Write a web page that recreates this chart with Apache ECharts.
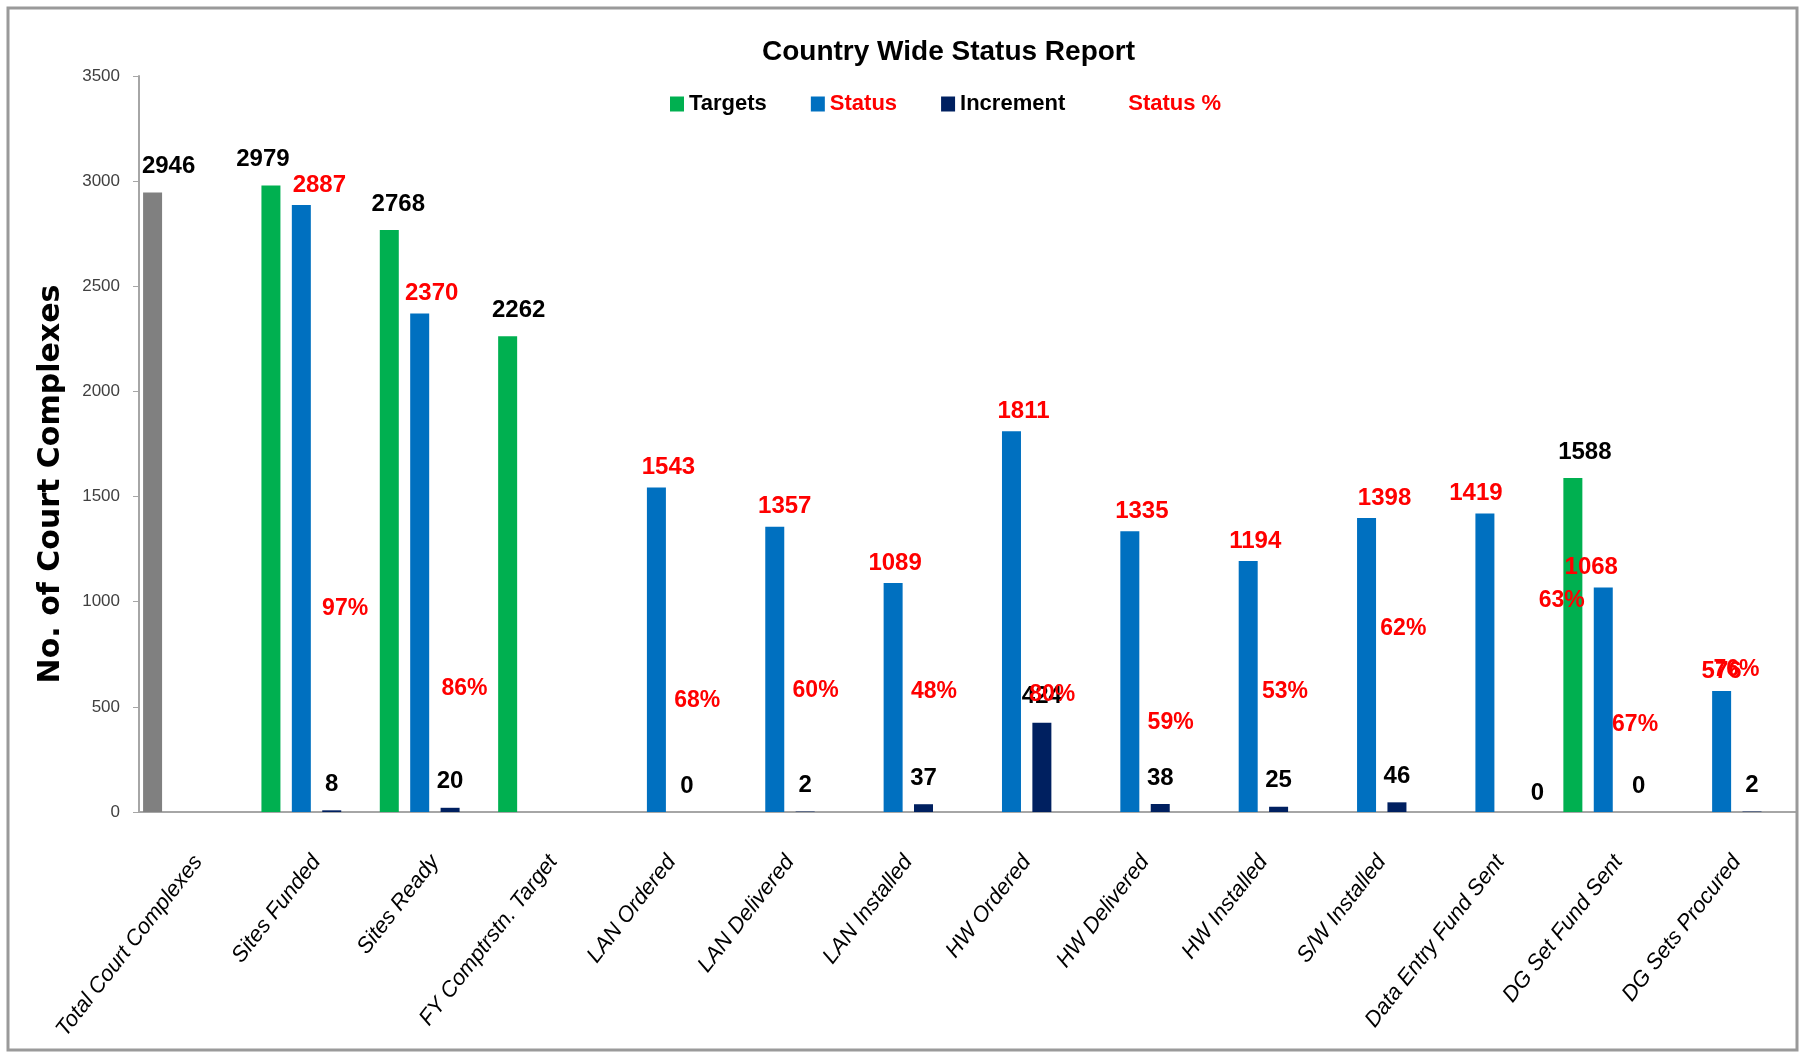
<!DOCTYPE html>
<html>
<head>
<meta charset="utf-8">
<script src="https://cdn.jsdelivr.net/npm/echarts@6.0.0/dist/echarts.min.js"></script>
<style>
html,body{margin:0;padding:0;background:#ffffff;}
#chart{width:1801px;height:1053px;}
</style>
</head>
<body>
<div id="chart"></div>
<script>
// ---------------- data ----------------
const categories = ['Total Court Complexes','Sites Funded','Sites Ready','FY Comptrstn. Target','LAN Ordered','LAN Delivered','LAN Installed','HW Ordered','HW Delivered','HW Installed','S/W Installed','Data Entry Fund Sent','DG Set Fund Sent','DG Sets Procured'];
const targets   = [2946, 2979, 2768, 2262, null, null, null, null, null, null, null, null, 1588, null];
const status    = [null, 2887, 2370, null, 1543, 1357, 1089, 1811, 1335, 1194, 1398, 1419, 1068, 576];
const increment = [null, 8, 20, null, 0, 2, 37, 424, 38, 25, 46, 0, 0, 2];
const statusPct = [null, 97, 86, null, 68, 60, 48, 80, 59, 53, 62, 63, 67, 76];
const yMin = 0, yMax = 3500, yStep = 500;

// ---------------- style (label nudges, like hand-placed Excel labels) ----------------
const tgtLabelDx = [16, -8, 9, 11, 0, 0, 0, 0, 0, 0, 0, 0, 12, 0];
const stsLabelDx = [0, 18, 12, 0, 12, 10, 2, 12, 12, 7, 18, -9, -12, 0];
const incLabelDx = [0, 0, 0, 0, 0, 0, 0, 0, 0, 0, 0, 22, 5, 0];
const incLabelDy = [0, 0, 0, 0, 0, 0, 0, 0, 0, 0, 0, 7, 0, 0];
const pctLabelDx = [0, -17, -16, 0, -20, -20, -20, -20, -20, -24, -24, 16, -29, -46];
const pctLabelDy = [0, -8, 51, 0, 30, 6, -16, 46, 36, -6, -53, -79, 52, 14];

const LABEL_FONT = '"Liberation Sans", Arial, sans-serif';
const GREEN = '#00B050', BLUE = '#0070C0', NAVY = '#002060', GRAY = '#808080', RED = '#FF0000';

function withLabelShift(values, dx, dy) {
  return values.map((v, i) => v === null ? '-' : {
    value: v,
    label: { offset: [dx ? dx[i] : 0, dy ? dy[i] : 0] }
  });
}

const chart = echarts.init(document.getElementById('chart'), null, { renderer: 'canvas' });

const valueLabel = (color, distance) => ({
  show: true, position: 'top', distance: distance,
  color: color, fontFamily: LABEL_FONT, fontWeight: 'bold', fontSize: 24
});

const option = {
  backgroundColor: '#ffffff',
  animation: false,
  title: {
    text: 'Country Wide Status Report',
    left: 757, top: 33,
    textStyle: { fontFamily: LABEL_FONT, fontWeight: 'bold', fontSize: 28, color: '#000000' }
  },
  legend: {
    left: 665, top: 88,
    itemWidth: 14, itemHeight: 15, itemGap: 44,
    icon: 'rect',
    textStyle: { fontFamily: LABEL_FONT, fontWeight: 'bold', fontSize: 22, color: '#000000' },
    data: [
      { name: 'Targets', itemStyle: { color: GREEN }, textStyle: { color: '#000000' } },
      { name: 'Status', itemStyle: { color: BLUE }, textStyle: { color: RED } },
      { name: 'Increment', itemStyle: { color: NAVY }, textStyle: { color: '#000000' } },
      { name: 'Status %', textStyle: { color: RED } }
    ]
  },
  grid: { left: 139, right: 5, top: 76, bottom: 241, containLabel: false, outerBoundsMode: 'none' },
  xAxis: {
    type: 'category',
    data: categories,
    axisLine: { lineStyle: { color: '#A6A6A6', width: 2 } },
    axisTick: { show: false },
    axisLabel: {
      interval: 0, rotate: 52, margin: 46,
      fontFamily: '"Liberation Sans", sans-serif', fontStyle: 'italic', fontSize: 22, color: '#000000'
    }
  },
  yAxis: [
    {
      type: 'value', min: yMin, max: yMax, interval: yStep,
      name: 'No. of Court Complexes',
      nameLocation: 'middle', nameGap: 73,
      nameTextStyle: { fontFamily: '"DejaVu Sans", sans-serif', fontWeight: 'bold', fontSize: 30, color: '#000000', padding: [0, 80, 0, 0] },
      axisLine: { show: true, lineStyle: { color: '#A6A6A6', width: 2 } },
      axisTick: { show: true, length: 6, lineStyle: { color: '#A6A6A6' } },
      splitLine: { show: false },
      axisLabel: { margin: 19, formatter: v => String(v), fontFamily: '"Liberation Sans", sans-serif', fontSize: 17, color: '#404040' }
    },
    { type: 'value', min: 0, max: 400, show: false, splitLine: { show: false } }
  ],
  series: [
    {
      name: 'Targets', type: 'bar', barWidth: 19, barGap: '60%',
      itemStyle: { color: p => p.dataIndex === 0 ? GRAY : GREEN },
      label: valueLabel('#000000', 14),
      data: withLabelShift(targets, tgtLabelDx, null)
    },
    {
      name: 'Status', type: 'bar', barWidth: 19, barGap: '60%',
      itemStyle: { color: BLUE },
      label: valueLabel(RED, 8),
      data: withLabelShift(status, stsLabelDx, null)
    },
    {
      name: 'Increment', type: 'bar', barWidth: 19, barGap: '60%',
      itemStyle: { color: NAVY },
      label: valueLabel('#000000', 14),
      data: withLabelShift(increment, incLabelDx, incLabelDy)
    },
    {
      name: 'Status %', type: 'bar', barWidth: 19, barGap: '60%', yAxisIndex: 1,
      itemStyle: { color: 'rgba(255,255,255,0)' },
      label: {
        show: true, position: 'top', distance: 5, formatter: '{c}%',
        color: RED, fontFamily: LABEL_FONT, fontWeight: 'bold', fontSize: 23
      },
      data: withLabelShift(statusPct, pctLabelDx, pctLabelDy)
    }
  ],
  graphic: [
    {
      type: 'rect', silent: true, z: 100,
      shape: { x: 8, y: 8, width: 1789, height: 1042 },
      style: { fill: 'none', stroke: '#9A9A9A', lineWidth: 3 }
    }
  ]
};
chart.setOption(option);
</script>
</body>
</html>
